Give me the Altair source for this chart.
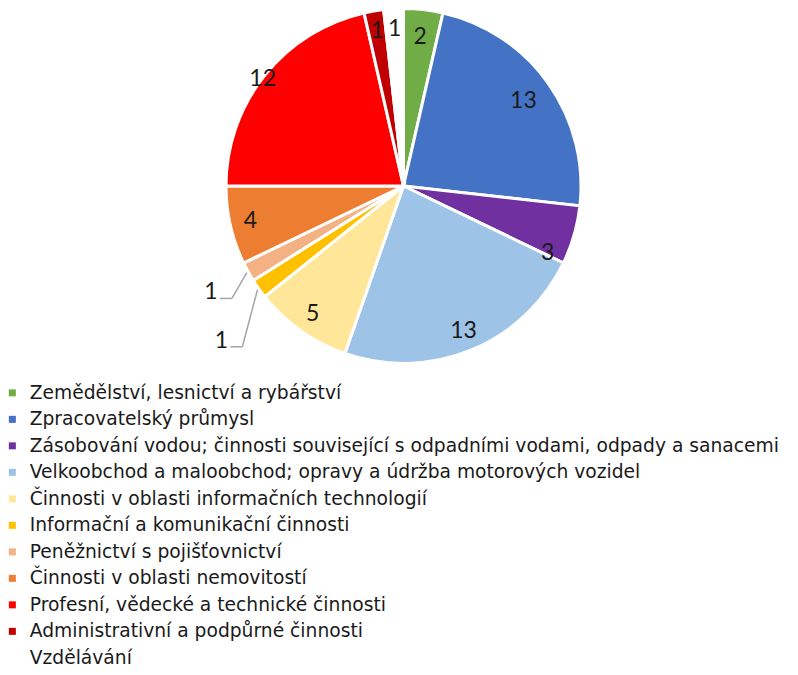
import math
import altair as alt
import pandas as pd

# ---- data ----
categories = [
    "Zemědělství, lesnictví a rybářství",
    "Zpracovatelský průmysl",
    "Zásobování vodou; činnosti související s odpadními vodami, odpady a sanacemi",
    "Velkoobchod a maloobchod; opravy a údržba motorových vozidel",
    "Činnosti v oblasti informačních technologií",
    "Informační a komunikační činnosti",
    "Peněžnictví s pojišťovnictví",
    "Činnosti v oblasti nemovitostí",
    "Profesní, vědecké a technické činnosti",
    "Administrativní a podpůrné činnosti",
    "Vzdělávání",
]
values = [2, 13, 3, 13, 5, 1, 1, 4, 12, 1, 1]
colors = ["#70AD47", "#4472C4", "#7030A0", "#9DC3E6", "#FFE699", "#FFC000",
          "#F4B183", "#ED7D31", "#FF0000", "#C00000", "#FFFFFF"]

# ---- layout (not data) ----
CX, CY = 395.5, 178.0      # pie centre in chart coords
R = 177.5
LABEL_R = 157
# per-label placement tweaks: (radius, angle nudge in degrees)
label_tweak = {
    categories[0]: (150, 0),
    categories[1]: (147, 0),
    categories[2]: (159, 8.8),
    categories[5]: (239, -5.0),
    categories[6]: (220, 0),
    categories[8]: (177, -1.3),
}
outside = {categories[5], categories[6]}

total = sum(values)
rows = []
cum = 0
for i, (c, v) in enumerate(zip(categories, values)):
    start, end = cum, cum + v
    cum = end
    rad, nudge = label_tweak.get(c, (LABEL_R, 0))
    mid = (start + end) / 2
    rows.append(dict(cat=c, value=v, order=i, start=start, end=end,
                     mid=mid + nudge * total / 360.0, lr=rad))
df = pd.DataFrame(rows)

# leader lines for labels placed outside the pie
seg = []
for r in rows:
    if r["cat"] in outside:
        a_edge = math.radians((r["start"] + r["end"]) / 2 / total * 360)
        a_lab = math.radians(r["mid"] / total * 360)
        lx = CX + r["lr"] * math.sin(a_lab)
        ly = CY - r["lr"] * math.cos(a_lab)
        px = CX + (R + 1.5) * math.sin(a_edge)
        py = CY - (R + 1.5) * math.cos(a_edge)
        seg.append(dict(x=px, y=py, x2=lx + 21, y2=ly + 6))
        seg.append(dict(x=lx + 21, y=ly + 6, x2=lx + 9, y2=ly + 6))
seg_df = pd.DataFrame(seg)

theta_scale = alt.Scale(domain=[0, total], range=[0, 2 * math.pi])
color_enc = alt.Color(
    "cat:N",
    scale=alt.Scale(domain=categories, range=colors),
    sort=categories,
    legend=alt.Legend(
        title=None, orient="none", legendX=-5, legendY=375.5, direction="vertical",
        symbolType="square", symbolSize=49, symbolStrokeWidth=0,
        labelFont="DejaVu Sans", labelFontSize=18.7, labelColor="#1a1a1a",
        labelLimit=800, labelOffset=8, rowPadding=6.5, padding=0,
    ),
)

base = alt.Chart(df)

pie = base.mark_arc(outerRadius=R, stroke="white", strokeWidth=3).encode(
    theta=alt.Theta("start:Q", scale=theta_scale),
    theta2="end:Q",
    color=color_enc,
    x=alt.value(CX), y=alt.value(CY),
)

labels = base.mark_text(font="Lato", fontSize=23, color="#1a1a1a",
                        align="center", baseline="middle").encode(
    theta=alt.Theta("mid:Q", scale=theta_scale),
    radius=alt.Radius("lr:Q", scale=None),
    text=alt.Text("value:Q"),
    x=alt.value(CX), y=alt.value(CY),
)

leaders = alt.Chart(seg_df).mark_rule(color="#A6A6A6", strokeWidth=1.5).encode(
    x=alt.X("x:Q", scale=None), y=alt.Y("y:Q", scale=None),
    x2="x2:Q", y2="y2:Q",
)

chart = alt.layer(pie, leaders, labels).properties(
    width=782, height=659, autosize=alt.AutoSizeParams(type="none"), padding=0,
).configure_view(stroke=None)

chart.save("out.html", embed_options={"renderer": "svg", "actions": False})
